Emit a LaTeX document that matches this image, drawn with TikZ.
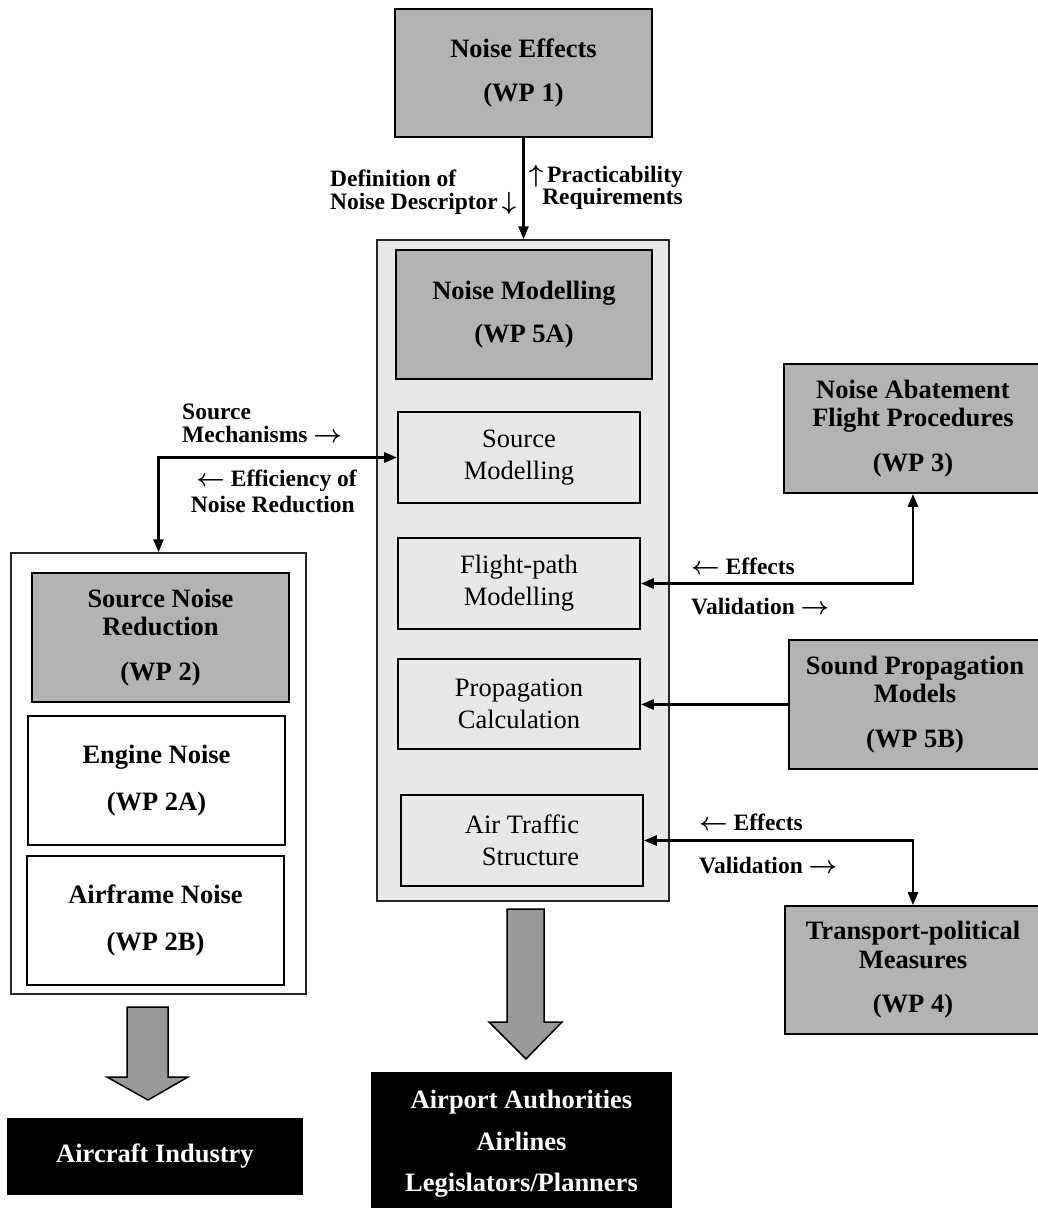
\documentclass[tikz,border=0pt]{standalone}
\usepackage{fontspec}
\setmainfont{Liberation Serif}
\usetikzlibrary{arrows.meta}
\definecolor{wpgray}{RGB}{179,179,179}
\definecolor{lightg}{RGB}{232,232,232}
\definecolor{arrg}{RGB}{153,153,153}
\newcommand\bxfont{\fontsize{26.5}{28.5}\selectfont\bfseries}
\newcommand\rgfont{\fontsize{26.5}{32}\selectfont}
\newcommand\lbfont{\fontsize{23.5}{23}\selectfont\bfseries\boldmath}
\begin{document}
\begin{tikzpicture}[x=1pt,y=-1pt,
  >={Triangle[length=13pt,width=10pt]},
  every node/.style={inner sep=0pt},
  sz/.style n args={2}{minimum width=#1pt, minimum height=#2pt},
  wpbox/.style={draw=black, fill=wpgray, line width=1.8pt, align=center, font=\bxfont},
  subbox/.style={draw=black, fill=lightg, line width=1.8pt, align=center, font=\rgfont},
  whbox/.style={draw=black, fill=white, line width=1.8pt, align=center, font=\bxfont},
  framebox/.style={draw=black!85, line width=1.5pt},
  blkbox/.style={fill=black, text=white, align=center, font=\bxfont},
  lbl/.style={font=\lbfont},
  conn/.style={line width=2.6pt, draw=black},
  bigarrow/.style={fill=arrg, draw=black, line width=1.5pt, line join=miter}
]
\clip (0,0) rectangle (1038,1208);
\fill[white] (0,0) rectangle (1038,1208);

% top
\node[wpbox, sz={257}{128}] (wp1) at (523.5,73) {Noise Effects\\[16pt](WP 1)};

% centre column
\node[framebox, fill=lightg, sz={292}{661}] (outer5a) at (523,570.5) {};
\node[wpbox, sz={256}{129}] (nm) at (524,314.5) {Noise Modelling\\[15pt](WP 5A)};
\node[subbox, sz={242}{91}] (sm) at (519,457.5) {Source\\Modelling};
\node[subbox, sz={242}{91}] (fp) at (519,583.5) {Flight-path\\Modelling};
\node[subbox, sz={242}{90}] (pc) at (519,704) {Propagation\\Calculation};
\node[subbox, align=right, sz={242}{91}] (atr) at (522,840.5) {Air Traffic\\Structure};

% left column
\node[framebox, fill=white, sz={295}{441}] (outer2) at (158.5,773.5) {};
\node[wpbox, sz={257}{129}] (wp2) at (160.5,637.5) {Source Noise\\Reduction\\[16pt](WP 2)};
\node[whbox, sz={257}{129}] (en) at (156.5,780.5) {Engine Noise\\[19pt](WP 2A)};
\node[whbox, sz={257}{129}] (af) at (155.5,920.5) {Airframe Noise\\[19pt](WP 2B)};

% right column
\node[wpbox, sz={258}{129}] (wp3) at (913,428.5) {Noise Abatement\\Flight Procedures\\[16pt](WP 3)};
\node[wpbox, sz={252}{129}] (wp5b) at (915,704.5) {Sound Propagation\\Models\\[16pt](WP 5B)};
\node[wpbox, sz={256}{128}] (wp4) at (913,970) {Transport-political\\Measures\\[16pt](WP 4)};

% bottom
\node[blkbox, sz={296}{77}] (ai) at (155,1156.5) {Aircraft Industry};
\node[blkbox, sz={301}{144}] (aa) at (521.5,1144) {Airport Authorities\\[13pt]Airlines\\[13pt]Legislators/Planners};

% big arrows
\draw[bigarrow] (507,909) -- (544,909) -- (544,1022) -- (562,1022) -- (526,1059) -- (489,1022) -- (507,1022) -- cycle;
\draw[bigarrow] (127,1007) -- (168,1007) -- (168,1077) -- (188,1077) -- (148,1100) -- (107,1077) -- (127,1077) -- cycle;

% connectors
\draw[conn, ->] (wp1.south) -- (wp1.south |- outer5a.north);
\draw[conn, <->] (outer2.north) |- (sm.west);
\draw[conn, <->] (fp.east) -| (wp3.south);
\draw[conn, ->] (wp5b.west) -- (wp5b.west -| pc.east);
\draw[conn, <->] (atr.east) -| (wp4.north);

% labels
\node[lbl, anchor=base west] (l1a) at (330,186) {Definition of};
\node[lbl, anchor=base west] (l1b) at (330,209) {Noise Descriptor\,$\downarrow$};
\node[lbl, anchor=base east] (l2a) at (683,182) {$\uparrow$\,Practicability};
\node[lbl, anchor=base east] (l2b) at (683,204) {Requirements};
\node[lbl, anchor=base west] (l3a) at (182,419) {Source};
\node[lbl, anchor=base west] (l3b) at (182,442) {Mechanisms $\rightarrow$};
\node[lbl, anchor=base east] (l4a) at (357,486) {$\leftarrow$ Efficiency of};
\node[lbl, anchor=base east] (l4b) at (355,512) {Noise Reduction};
\node[lbl, anchor=base west] (l5a) at (691,574) {$\leftarrow$ Effects};
\node[lbl, anchor=base west] (l5b) at (691,614) {Validation $\rightarrow$};
\node[lbl, anchor=base west] (l6a) at (699,830) {$\leftarrow$ Effects};
\node[lbl, anchor=base west] (l6b) at (699,873) {Validation $\rightarrow$};
\end{tikzpicture}
\end{document}
